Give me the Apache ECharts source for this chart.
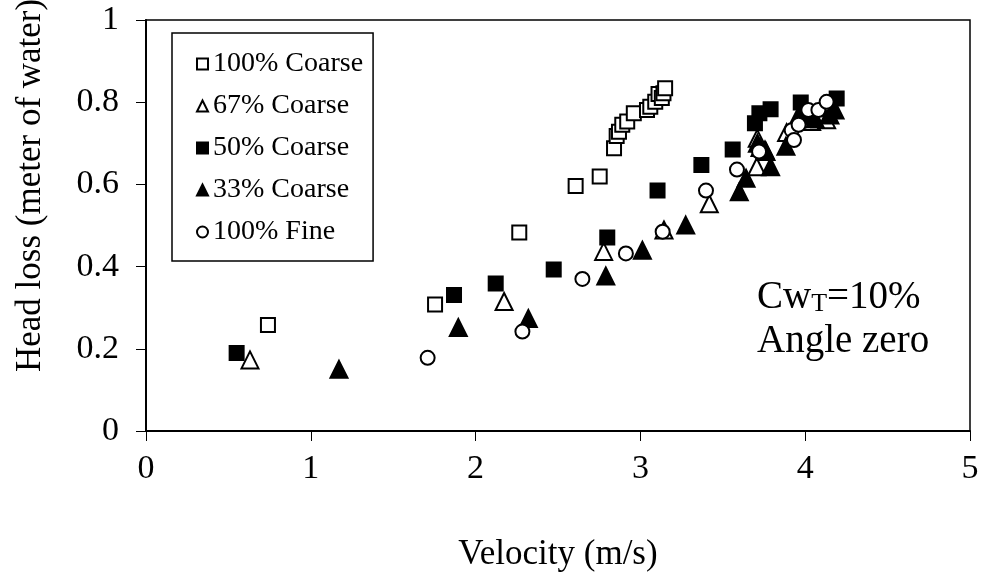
<!DOCTYPE html>
<html>
<head>
<meta charset="utf-8">
<script src="https://cdn.jsdelivr.net/npm/echarts@6/dist/echarts.min.js"></script>
<style>html,body{margin:0;padding:0;background:#fff}#c{width:982px;height:578px}</style>
</head>
<body>
<div id="c"></div>
<script>
const seriesNames = ['100% Coarse', '67% Coarse', '50% Coarse', '33% Coarse', '100% Fine'];
const xTicks = [0, 1, 2, 3, 4, 5];
const yTicks = [0, 0.2, 0.4, 0.6, 0.8, 1];

const coarse100 = [[0.74,0.258],[1.754,0.308],[2.265,0.483],[2.607,0.596],[2.753,0.619],[2.84,0.688],[2.856,0.718],[2.87,0.728],[2.89,0.745],[2.92,0.753],[2.96,0.773],[3.04,0.781],[3.06,0.789],[3.09,0.801],[3.11,0.82],[3.13,0.81],[3.14,0.822],[3.15,0.834]];
const coarse67 = [[0.631,0.173],[2.173,0.315],[2.777,0.437],[3.143,0.489],[3.418,0.553],[3.706,0.643],[3.709,0.712],[3.726,0.69],[3.762,0.68],[3.887,0.726],[3.95,0.755],[4.039,0.753],[4.09,0.76],[4.13,0.757]];
const coarse50 = [[0.55,0.19],[1.869,0.331],[2.122,0.359],[2.474,0.393],[2.799,0.471],[3.104,0.585],[3.37,0.647],[3.56,0.685],[3.695,0.749],[3.722,0.773],[3.79,0.783],[3.973,0.799],[4.0,0.775],[4.03,0.765],[4.191,0.809]];
const coarse33 = [[1.171,0.15],[1.895,0.252],[2.32,0.274],[2.79,0.377],[3.012,0.44],[3.275,0.501],[3.6,0.582],[3.641,0.615],[3.71,0.7],[3.756,0.684],[3.79,0.643],[3.883,0.693],[3.95,0.76],[4.06,0.76],[4.15,0.769],[4.181,0.781]];
const fine100 = [[1.709,0.178],[2.284,0.242],[2.648,0.37],[2.912,0.432],[3.135,0.485],[3.398,0.585],[3.586,0.636],[3.72,0.68],[3.918,0.732],[3.932,0.708],[3.96,0.745],[4.019,0.781],[4.08,0.781],[4.13,0.801]];

const FONT = '"Liberation Serif", "Times New Roman", serif';
const chart = echarts.init(document.getElementById('c'), null, {renderer: 'canvas'});

function mk(name, data, symbol, filled, size) {
  return {
    name: name, type: 'scatter', data: data, symbol: symbol, symbolSize: size,
    itemStyle: {color: filled ? '#000' : '#fff', borderColor: '#000', borderWidth: 2, opacity: 1},
    emphasis: {disabled: true}
  };
}

const option = {
  animation: false,
  backgroundColor: '#fff',
  grid: {left: 146, right: 12, top: 20, bottom: 147, show: true, borderColor: '#000', borderWidth: 1.5, backgroundColor: 'transparent'},
  xAxis: {
    type: 'value', min: xTicks[0], max: xTicks[xTicks.length - 1], interval: 1,
    name: 'Velocity (m/s)', nameLocation: 'middle', nameGap: 106,
    nameTextStyle: {fontFamily: FONT, fontSize: 35, color: '#000'},
    axisLine: {show: true, onZero: false, lineStyle: {color: '#000', width: 2}},
    axisTick: {show: true, inside: false, length: 10, lineStyle: {color: '#000', width: 1}},
    axisLabel: {fontFamily: FONT, fontSize: 34, color: '#000', margin: 21},
    splitLine: {show: false}
  },
  yAxis: {
    type: 'value', min: yTicks[0], max: yTicks[yTicks.length - 1], interval: 0.2,
    axisLine: {show: true, onZero: false, lineStyle: {color: '#000', width: 2}},
    axisTick: {show: true, inside: false, length: 10, lineStyle: {color: '#000', width: 1}},
    axisLabel: {fontFamily: FONT, fontSize: 34, color: '#000', margin: 27},
    splitLine: {show: false}
  },
  legend: {
    orient: 'vertical', left: 172, top: 33, width: 200,
    itemWidth: 11, itemHeight: 11, itemGap: 14,
    padding: [17, 10, 15, 24],
    borderColor: '#000', borderWidth: 1.5, backgroundColor: '#fff',
    textStyle: {fontFamily: FONT, fontSize: 28, color: '#000'},
    data: seriesNames
  },
  graphic: [
    {type: 'text', left: 757, top: 278, style: {
      text: '{a|Cw}{s|T}{a|=10%}', fill: '#000',
      rich: {a: {fontFamily: FONT, fontSize: 39, fill: '#000'}, s: {fontFamily: FONT, fontSize: 26, fill: '#000', verticalAlign: 'bottom', padding: [12, 0, 0, 0]}}
    }},
    {type: 'text', left: 757, top: 322, style: {text: 'Angle zero', font: '39px ' + FONT, fill: '#000'}},
    {type: 'text', x: 31, y: 372, rotation: Math.PI / 2, style: {text: 'Head loss (meter of water)', font: '35px ' + FONT, fill: '#000', textVerticalAlign: 'middle'}}
  ],
  series: [
    mk(seriesNames[0], coarse100, 'rect', false, 14),
    mk(seriesNames[1], coarse67, 'triangle', false, 17),
    mk(seriesNames[2], coarse50, 'rect', true, 14),
    mk(seriesNames[3], coarse33, 'triangle', true, 17),
    mk(seriesNames[4], fine100, 'circle', false, 14)
  ]
};
chart.setOption(option);
</script>
</body>
</html>
